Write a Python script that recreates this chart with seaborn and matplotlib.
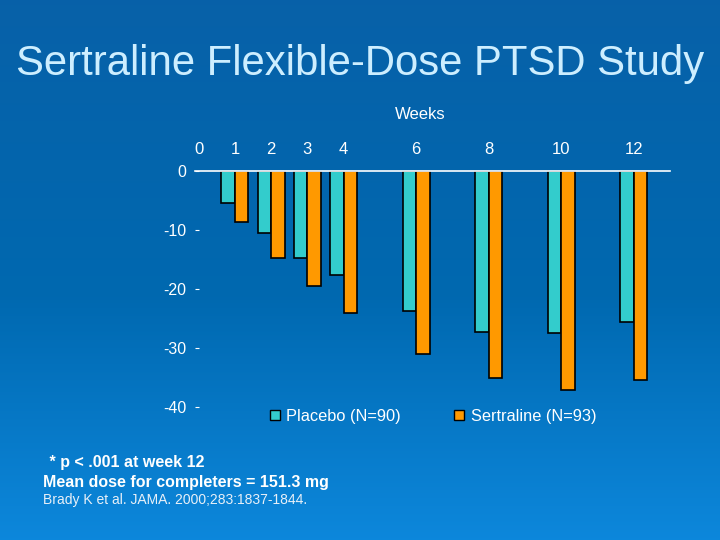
import numpy as np
import pandas as pd
import seaborn as sns
import matplotlib.pyplot as plt

# datos (cambio en la escala, por semana)
weeks = [1, 2, 3, 4, 6, 8, 10, 12]
placebo = [-5.5, -10.5, -14.8, -17.7, -23.8, -27.3, -27.5, -25.6]
sertraline = [-8.6, -14.8, -19.5, -24.0, -31.0, -35.1, -37.1, -35.4]
groups = ["Placebo (N=90)", "Sertraline (N=93)"]
week_ticks = [0, 1, 2, 3, 4, 6, 8, 10, 12]
y_ticks = [0, -10, -20, -30, -40]

df = pd.DataFrame({
    "week": weeks * 2,
    "change": placebo + sertraline,
    "group": [groups[0]] * len(weeks) + [groups[1]] * len(weeks),
})

sns.set_style("white")
plt.rcParams["font.family"] = ["Liberation Sans", "DejaVu Sans"]

fig = plt.figure(figsize=(7.2, 5.4), dpi=100)

# fondo azul en degradado
bg = fig.add_axes([0, 0, 1, 1], zorder=-10)
grad = np.linspace(0, 1, 256)
top = np.array([0.03, 0.38, 0.66])
mid = np.array([0.0, 0.41, 0.69])
bot = np.array([0.05, 0.53, 0.86])
cols = np.where(grad[:, None] < 0.55,
                top + (mid - top) * (grad[:, None] / 0.55),
                mid + (bot - mid) * ((grad[:, None] - 0.55) / 0.45))
bg.imshow(cols[:, None, :], aspect="auto", extent=[0, 1, 0, 1])
bg.set_axis_off()

ax = fig.add_axes([195 / 720, 1 - 407 / 540, 475 / 720, 236 / 540])
ax.set_facecolor("none")

sns.barplot(data=df, x="week", y="change", hue="group", native_scale=True,
            palette=["#33CCCC", "#FF9900"], saturation=1, width=0.74, gap=0,
            edgecolor="black", linewidth=1.2, ax=ax, orient="x")

ax.set_xlim(-0.1, 13)
ax.set_ylim(-40, 0)

for s in ["left", "right", "bottom"]:
    ax.spines[s].set_visible(False)
ax.spines["top"].set_color("white")
ax.spines["top"].set_linewidth(1.2)

ax.xaxis.tick_top()
ax.set_xticks(week_ticks)
ax.set_xticklabels([str(w) for w in week_ticks])
ax.set_xticks([2, 4], minor=True)
ax.tick_params(axis="x", which="major", length=0, pad=10, labelsize=12,
               labelcolor="white")
ax.tick_params(axis="x", which="minor", top=True, bottom=False, length=4,
               color="white", direction="out")
ax.set_xlabel("Weeks", fontsize=12, color="white")
ax.xaxis.set_label_position("top")
ax.xaxis.set_label_coords((420 - 195) / 475, 1 + (171 - 119) / 236)

ax.set_yticks(y_ticks)
ax.set_yticklabels([str(v) for v in y_ticks])
ax.tick_params(axis="y", left=True, length=3, direction="in", color="white",
               pad=6, labelsize=11.5, labelcolor="white")
ax.set_ylabel("")

sns.move_legend(ax, "center left", bbox_to_anchor=(270 / 720, 1 - 416 / 540),
                bbox_transform=fig.transFigure, ncol=2, frameon=False,
                title=None, fontsize=11.8, handlelength=0.6, handleheight=0.6,
                handletextpad=0.4, columnspacing=3.25, borderpad=0,
                borderaxespad=0)
leg = ax.get_legend()
for t in leg.get_texts():
    t.set_color("white")
for h in leg.legend_handles:
    h.set_edgecolor("black")
    h.set_linewidth(1)

fig.text(0.5, 1 - 75 / 540, "Sertraline Flexible-Dose PTSD Study",
         ha="center", va="baseline", fontsize=30.2, color="#CDEEFF")
fig.text(45 / 720, 1 - 463 / 540, " * p < .001 at week 12", ha="left",
         va="center", fontsize=11.5, fontweight="bold", color="white")
fig.text(43 / 720, 1 - 483 / 540, "Mean dose for completers = 151.3 mg",
         ha="left", va="center", fontsize=11.5, fontweight="bold", color="white")
fig.text(43 / 720, 1 - 500 / 540, "Brady K et al. JAMA. 2000;283:1837-1844.",
         ha="left", va="center", fontsize=10, color="#E8F0F8")

fig.savefig("out.png", dpi=100)
